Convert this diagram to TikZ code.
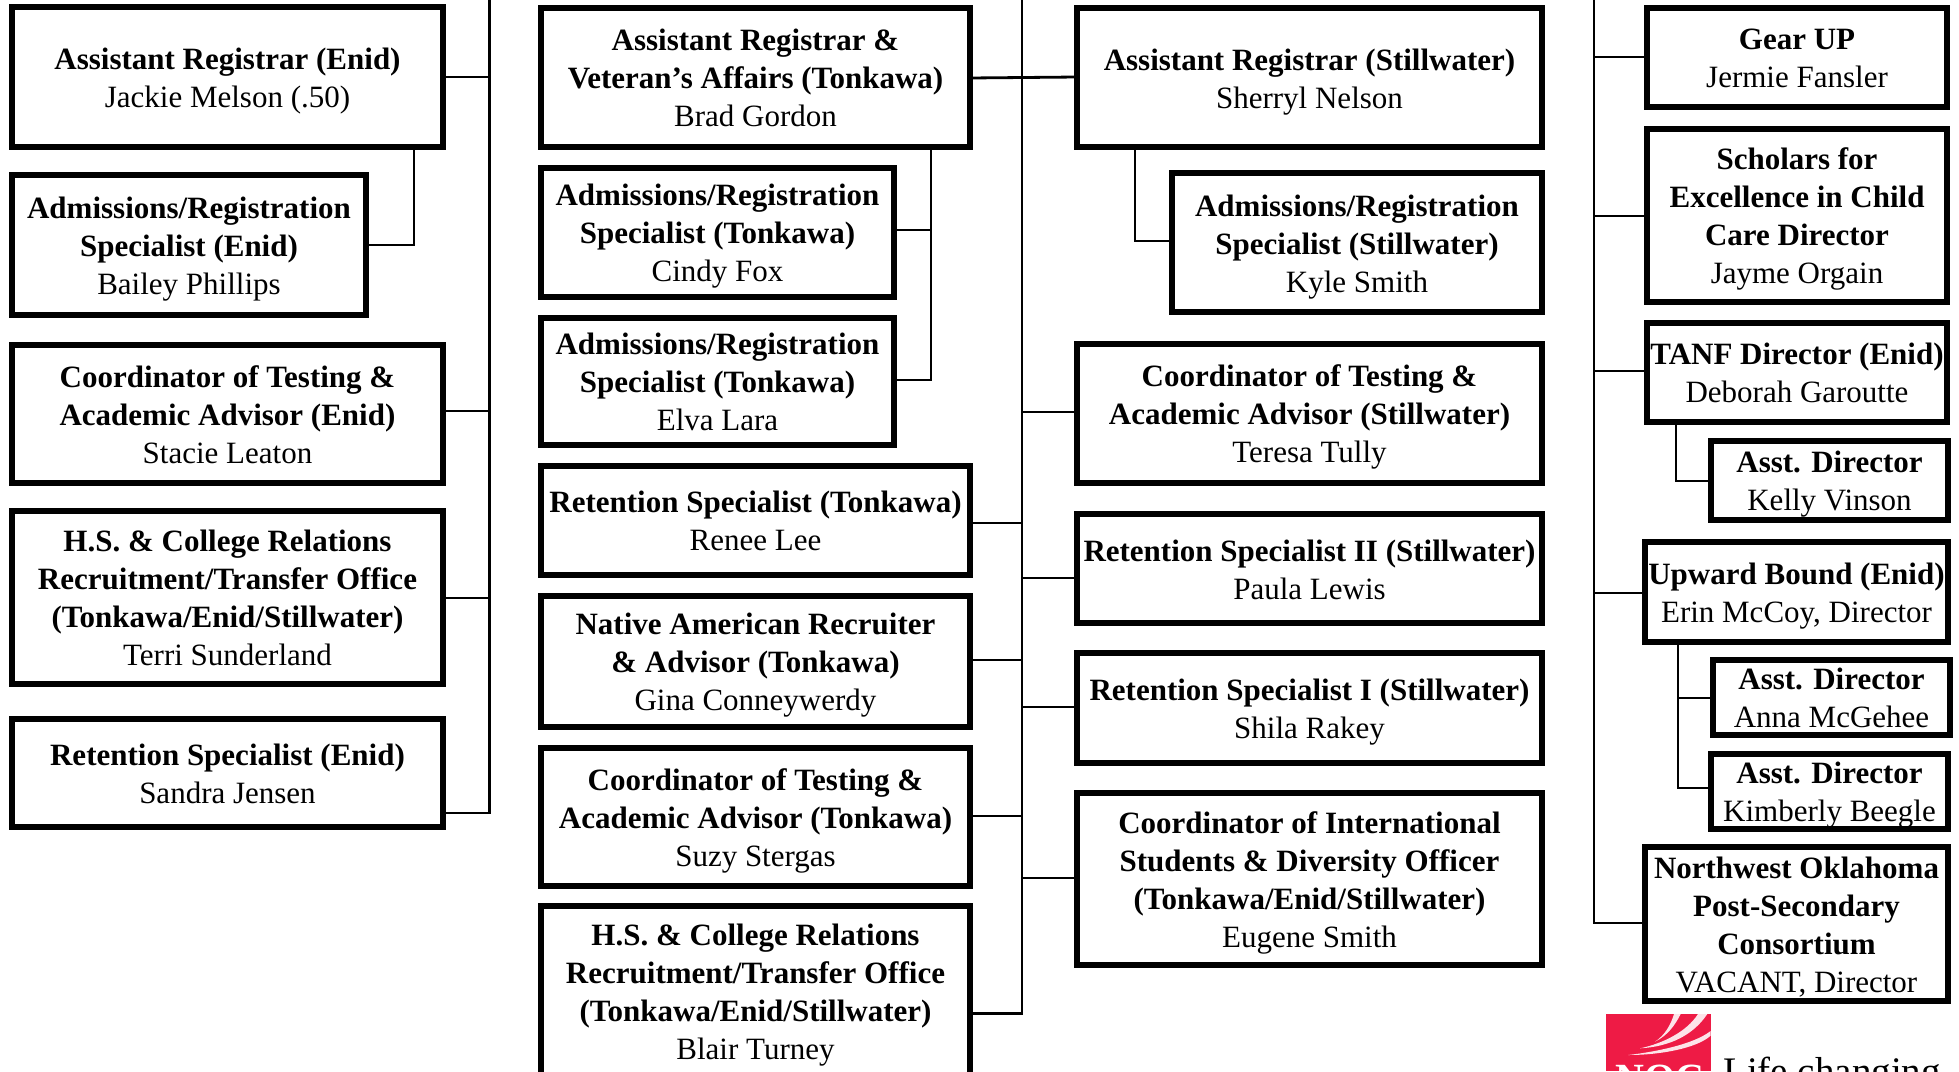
\documentclass[tikz,border=0pt]{standalone}
\usepackage{fontspec}
\setmainfont{Liberation Serif}
\newcommand{\bx}[7][2.2]{%
  \pgfmathsetmacro{\cx}{(#3+#5)/2}\pgfmathsetmacro{\cy}{(#4+#6)/2}%
  \pgfmathsetmacro{\bw}{#5-#3}\pgfmathsetmacro{\bh}{#6-#4}%
  \node[orgbox,minimum width=\bw pt,minimum height=\bh pt] (#2) at (\cx,\cy) {\raisebox{\dimexpr-7.75pt-#1pt\relax}[0pt][0pt]{\begin{tabular}[c]{@{}c@{}}#7\end{tabular}}};}
\definecolor{nocred}{HTML}{EE1B45}
\tikzset{
  orgbox/.style={draw=black,line width=5.5pt,fill=white,inner sep=0pt,outer sep=0pt,align=center,font=\fontsize{31}{38}\selectfont},
  link/.style={draw=black,line width=2.8pt},
  trunk/.style={draw=black,line width=2.8pt}
}
\newcommand{\tb}[1]{\textbf{#1}}
\begin{document}
\begin{tikzpicture}[x=1pt,y=-1pt]
\useasboundingbox (0,0) rectangle (1959,1071);
\clip (0,0) rectangle (1959,1071);
\renewcommand{\arraystretch}{1}
\setlength{\tabcolsep}{0pt}
% boxes (coordinates are stroke centres)
\bx[2.8]{a1}{12}{7}{443}{147}{\tb{Assistant Registrar (Enid)}\\Jackie Melson (.50)}
\bx[2.8]{a2}{12}{175}{366}{315}{\tb{Admissions/Registration}\\\tb{Specialist (Enid)}\\Bailey Phillips}
\bx{a3}{12}{345}{443}{483}{\tb{Coordinator of Testing \&}\\\tb{Academic Advisor (Enid)}\\Stacie Leaton}
\bx{a4}{12}{511}{443}{684}{\tb{H.S. \& College Relations}\\\tb{Recruitment/Transfer Office}\\\tb{(Tonkawa/Enid/Stillwater)}\\Terri Sunderland}
\bx{a5}{12}{719}{443}{827}{\tb{Retention Specialist (Enid)}\\Sandra Jensen}

\bx{b1}{541}{8}{970}{147}{\tb{Assistant Registrar \&}\\\tb{Veteran’s Affairs (Tonkawa)}\\Brad Gordon}
\bx{b2}{541}{168}{894}{297}{\tb{Admissions/Registration}\\\tb{Specialist (Tonkawa)}\\Cindy Fox}
\bx{b3}{541}{318}{894}{445}{\tb{Admissions/Registration}\\\tb{Specialist (Tonkawa)}\\Elva Lara}
\bx{b4}{541}{466}{970}{575}{\tb{Retention Specialist (Tonkawa)}\\Renee Lee}
\bx{b5}{541}{596}{970}{727}{\tb{Native American Recruiter}\\\tb{\& Advisor (Tonkawa)}\\Gina Conneywerdy}
\bx{b6}{541}{748}{970}{886}{\tb{Coordinator of Testing \&}\\\tb{Academic Advisor (Tonkawa)}\\Suzy Stergas}
\bx[-2.3]{b7}{541}{906}{970}{1085}{\tb{H.S. \& College Relations}\\\tb{Recruitment/Transfer Office}\\\tb{(Tonkawa/Enid/Stillwater)}\\Blair Turney}

\bx[2.8]{c1}{1077}{8}{1542}{147}{\tb{Assistant Registrar (Stillwater)}\\Sherryl Nelson}
\bx[2.8]{c2}{1172}{173}{1542}{312}{\tb{Admissions/Registration}\\\tb{Specialist (Stillwater)}\\Kyle Smith}
\bx{c3}{1077}{344}{1542}{483}{\tb{Coordinator of Testing \&}\\\tb{Academic Advisor (Stillwater)}\\Teresa Tully}
\bx[2.8]{c4}{1077}{514}{1542}{623}{\tb{Retention Specialist II (Stillwater)}\\Paula Lewis}
\bx{c5}{1077}{653}{1542}{763}{\tb{Retention Specialist I (Stillwater)}\\Shila Rakey}
\bx[2.8]{c6}{1077}{793}{1542}{965}{\tb{Coordinator of International}\\\tb{Students \& Diversity Officer}\\\tb{(Tonkawa/Enid/Stillwater)}\\Eugene Smith}

\bx{d1}{1647}{8}{1947}{107}{\tb{Gear UP}\\Jermie Fansler}
\bx{d2}{1647}{129}{1947}{302}{\tb{Scholars for}\\\tb{Excellence in Child}\\\tb{Care Director}\\Jayme Orgain}
\bx{d3}{1647}{323}{1947}{422}{\tb{TANF Director (Enid)}\\Deborah Garoutte}
\bx{d4}{1711}{441}{1948}{520}{\tb{Asst. Director}\\Kelly Vinson}
\bx{d5}{1645}{542}{1948}{642}{\tb{Upward Bound (Enid)}\\Erin McCoy, Director}
\bx{d6}{1713}{660}{1950}{735}{\tb{Asst. Director}\\Anna McGehee}
\bx{d7}{1711}{754}{1948}{829}{\tb{Asst. Director}\\Kimberly Beegle}
\bx{d8}{1645}{847}{1948}{1001}{\tb{Northwest Oklahoma}\\\tb{Post-Secondary}\\\tb{Consortium}\\VACANT, Director}
% trunks
\coordinate (ta0) at (489.5,-2); \coordinate (ta1) at (489.5,813);
\coordinate (tb0) at (1022,-2);  \coordinate (tb1) at (1022,1013.5);
\coordinate (td0) at (1594,-2);  \coordinate (td1) at (1594,923);
\draw[trunk] (ta0) -- (ta1) -- (a5.east |- ta1);
\draw[link] (a1.east |- 0,77) -- (ta0 |- 0,77);
\draw[link] (a3.east |- 0,411) -- (ta0 |- 0,411);
\draw[link] (a4.east |- 0,598) -- (ta0 |- 0,598);
\draw[link] (a1.south -| 414,0) -- (414,245) -- (a2.east |- 0,245);
\draw[trunk] (tb0) -- (tb1) -- (b7.east |- tb1);
\draw[link] (b1.east |- 0,78) -- (c1.west |- 0,77);
\draw[link] (b4.east |- 0,523) -- (tb0 |- 0,523);
\draw[link] (b5.east |- 0,660) -- (tb0 |- 0,660);
\draw[link] (b6.east |- 0,816) -- (tb0 |- 0,816);
\draw[link] (c3.west |- 0,412) -- (tb0 |- 0,412);
\draw[link] (c4.west |- 0,578) -- (tb0 |- 0,578);
\draw[link] (c5.west |- 0,707) -- (tb0 |- 0,707);
\draw[link] (c6.west |- 0,878) -- (tb0 |- 0,878);
\draw[link] (b1.south -| 931,0) -- (931,380) -- (b3.east |- 0,380);
\draw[link] (b2.east |- 0,230) -- (931,230);
\draw[link] (c1.south -| 1135,0) -- (1135,241) -- (c2.west |- 0,241);
\draw[trunk] (td0) -- (td1) -- (d8.west |- td1);
\draw[link] (d1.west |- 0,57) -- (td0 |- 0,57);
\draw[link] (d2.west |- 0,216) -- (td0 |- 0,216);
\draw[link] (d3.west |- 0,371) -- (td0 |- 0,371);
\draw[link] (d5.west |- 0,593) -- (td0 |- 0,593);
\draw[link] (d3.south -| 1676,0) -- (1676,481) -- (d4.west |- 0,481);
\draw[link] (d5.south -| 1678,0) -- (1678,788) -- (d7.west |- 0,788);
\draw[link] (d6.west |- 0,698) -- (1678,698);
% logo
\fill[nocred] (1606,1014) rectangle (1711,1071);
\begin{scope}[shift={(1600,1005)},x=0.3333pt,y=-0.3333pt]
\fill[white!88!nocred] (85,150) .. controls (180,150) and (290,130) .. (332,92) -- (332,78) .. controls (280,118) and (170,140) .. (85,150) -- cycle;
\fill[white!88!nocred] (120,130) .. controls (210,125) and (280,90) .. (322,27) -- (294,27) .. controls (260,80) and (190,115) .. (120,130) -- cycle;
\fill[white!88!nocred] (165,110) .. controls (205,90) and (225,60) .. (242,27) -- (222,27) .. controls (212,60) and (195,90) .. (165,110) -- cycle;
\end{scope}
\node[anchor=base,inner sep=0pt,text=white,font=\bfseries\fontsize{40}{40}\selectfont] (noc) at (1660,1091) {NOC};
\node[anchor=base west,inner sep=0pt,font=\fontsize{39}{39}\selectfont] (logo) at (1723,1084) {Life changing};
\end{tikzpicture}
\end{document}
